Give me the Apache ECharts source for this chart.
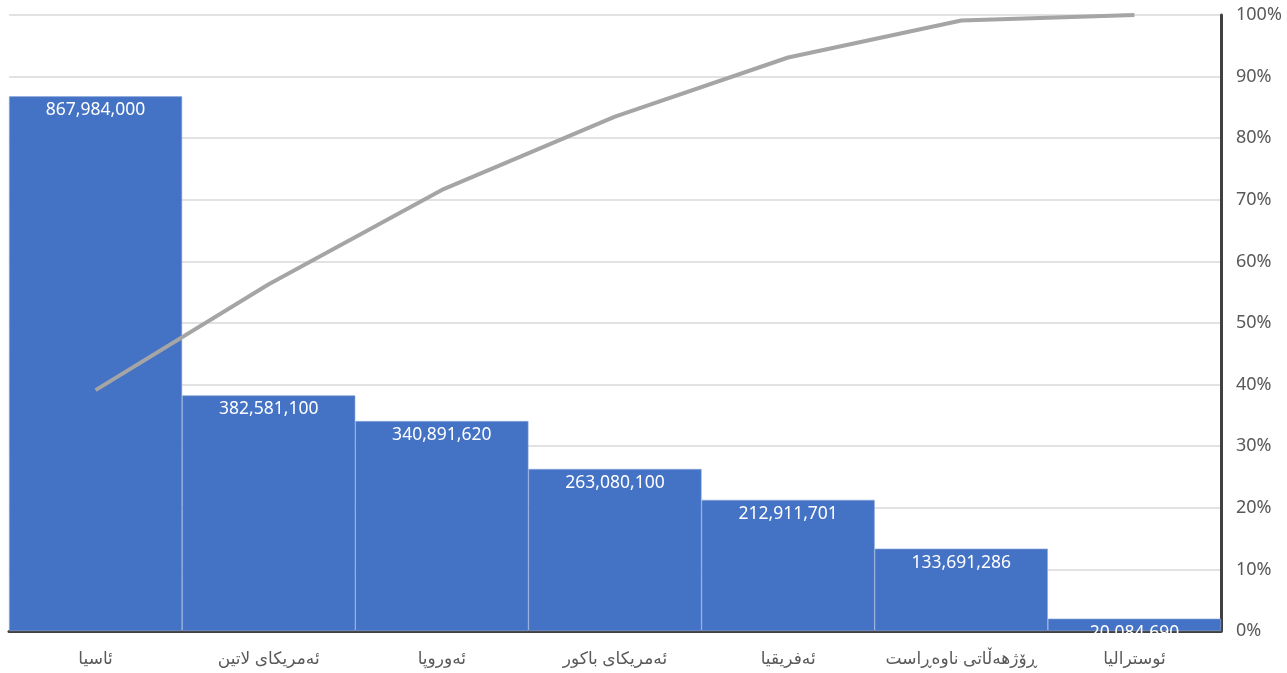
<!DOCTYPE html>
<html><head><meta charset="utf-8">
<script src="https://cdn.jsdelivr.net/npm/echarts@6/dist/echarts.min.js"></script>
<style>html,body{margin:0;padding:0;background:#fff}#c{width:1287px;height:673px}</style>
</head><body><div id="c"></div>
<script>
const categories = ["ئاسیا","ئەمریکای لاتین","ئەوروپا","ئەمریکای باکور","ئەفریقیا","ڕۆژهەڵاتی ناوەڕاست","ئوسترالیا"];
const values = [867984000, 382581100, 340891620, 263080100, 212911701, 133691286, 20084690];
const cumulativePct = [39.1, 56.3, 71.6, 83.5, 93.1, 99.1, 100];
const pctTicks = [0,10,20,30,40,50,60,70,80,90,100];

const font = '"Noto Sans","DejaVu Sans",sans-serif';
const chart = echarts.init(document.getElementById('c'), null, {renderer:'canvas'});
chart.setOption({
  animation:false,
  grid:{left:9,right:66,top:15,bottom:42,containLabel:false},
  xAxis:{type:'category',data:categories,
    axisLine:{show:true,lineStyle:{color:'#404040',width:3}},
    axisTick:{show:false},
    axisLabel:{color:'#595959',fontSize:17,fontFamily:font,margin:20,interval:0}},
  yAxis:[
    {type:'value',min:0,max:1000000000,show:false,splitLine:{show:false}},
    {type:'value',position:'right',min:pctTicks[0],max:pctTicks[pctTicks.length-1],interval:10,
      axisLine:{show:true,lineStyle:{color:'#404040',width:3}},
      axisTick:{show:false},
      axisLabel:{formatter:'{value}%',color:'#595959',fontSize:18,fontFamily:font,margin:15},
      splitLine:{show:true,lineStyle:{color:'#d9d9d9',width:1.5}}}
  ],
  series:[
    {type:'bar',data:values,barCategoryGap:'0%',yAxisIndex:0,
      itemStyle:{color:'#4472c4',borderColor:'#8eaadb',borderWidth:0.6},
      label:{show:true,position:'insideTop',distance:5,color:'#ffffff',fontSize:17.5,fontFamily:font,
        formatter:p=>p.value.toLocaleString('en-US')}},
    {type:'line',data:cumulativePct,yAxisIndex:1,symbol:'none',
      lineStyle:{color:'#a5a5a5',width:4},z:5}
  ]
});
</script></body></html>
